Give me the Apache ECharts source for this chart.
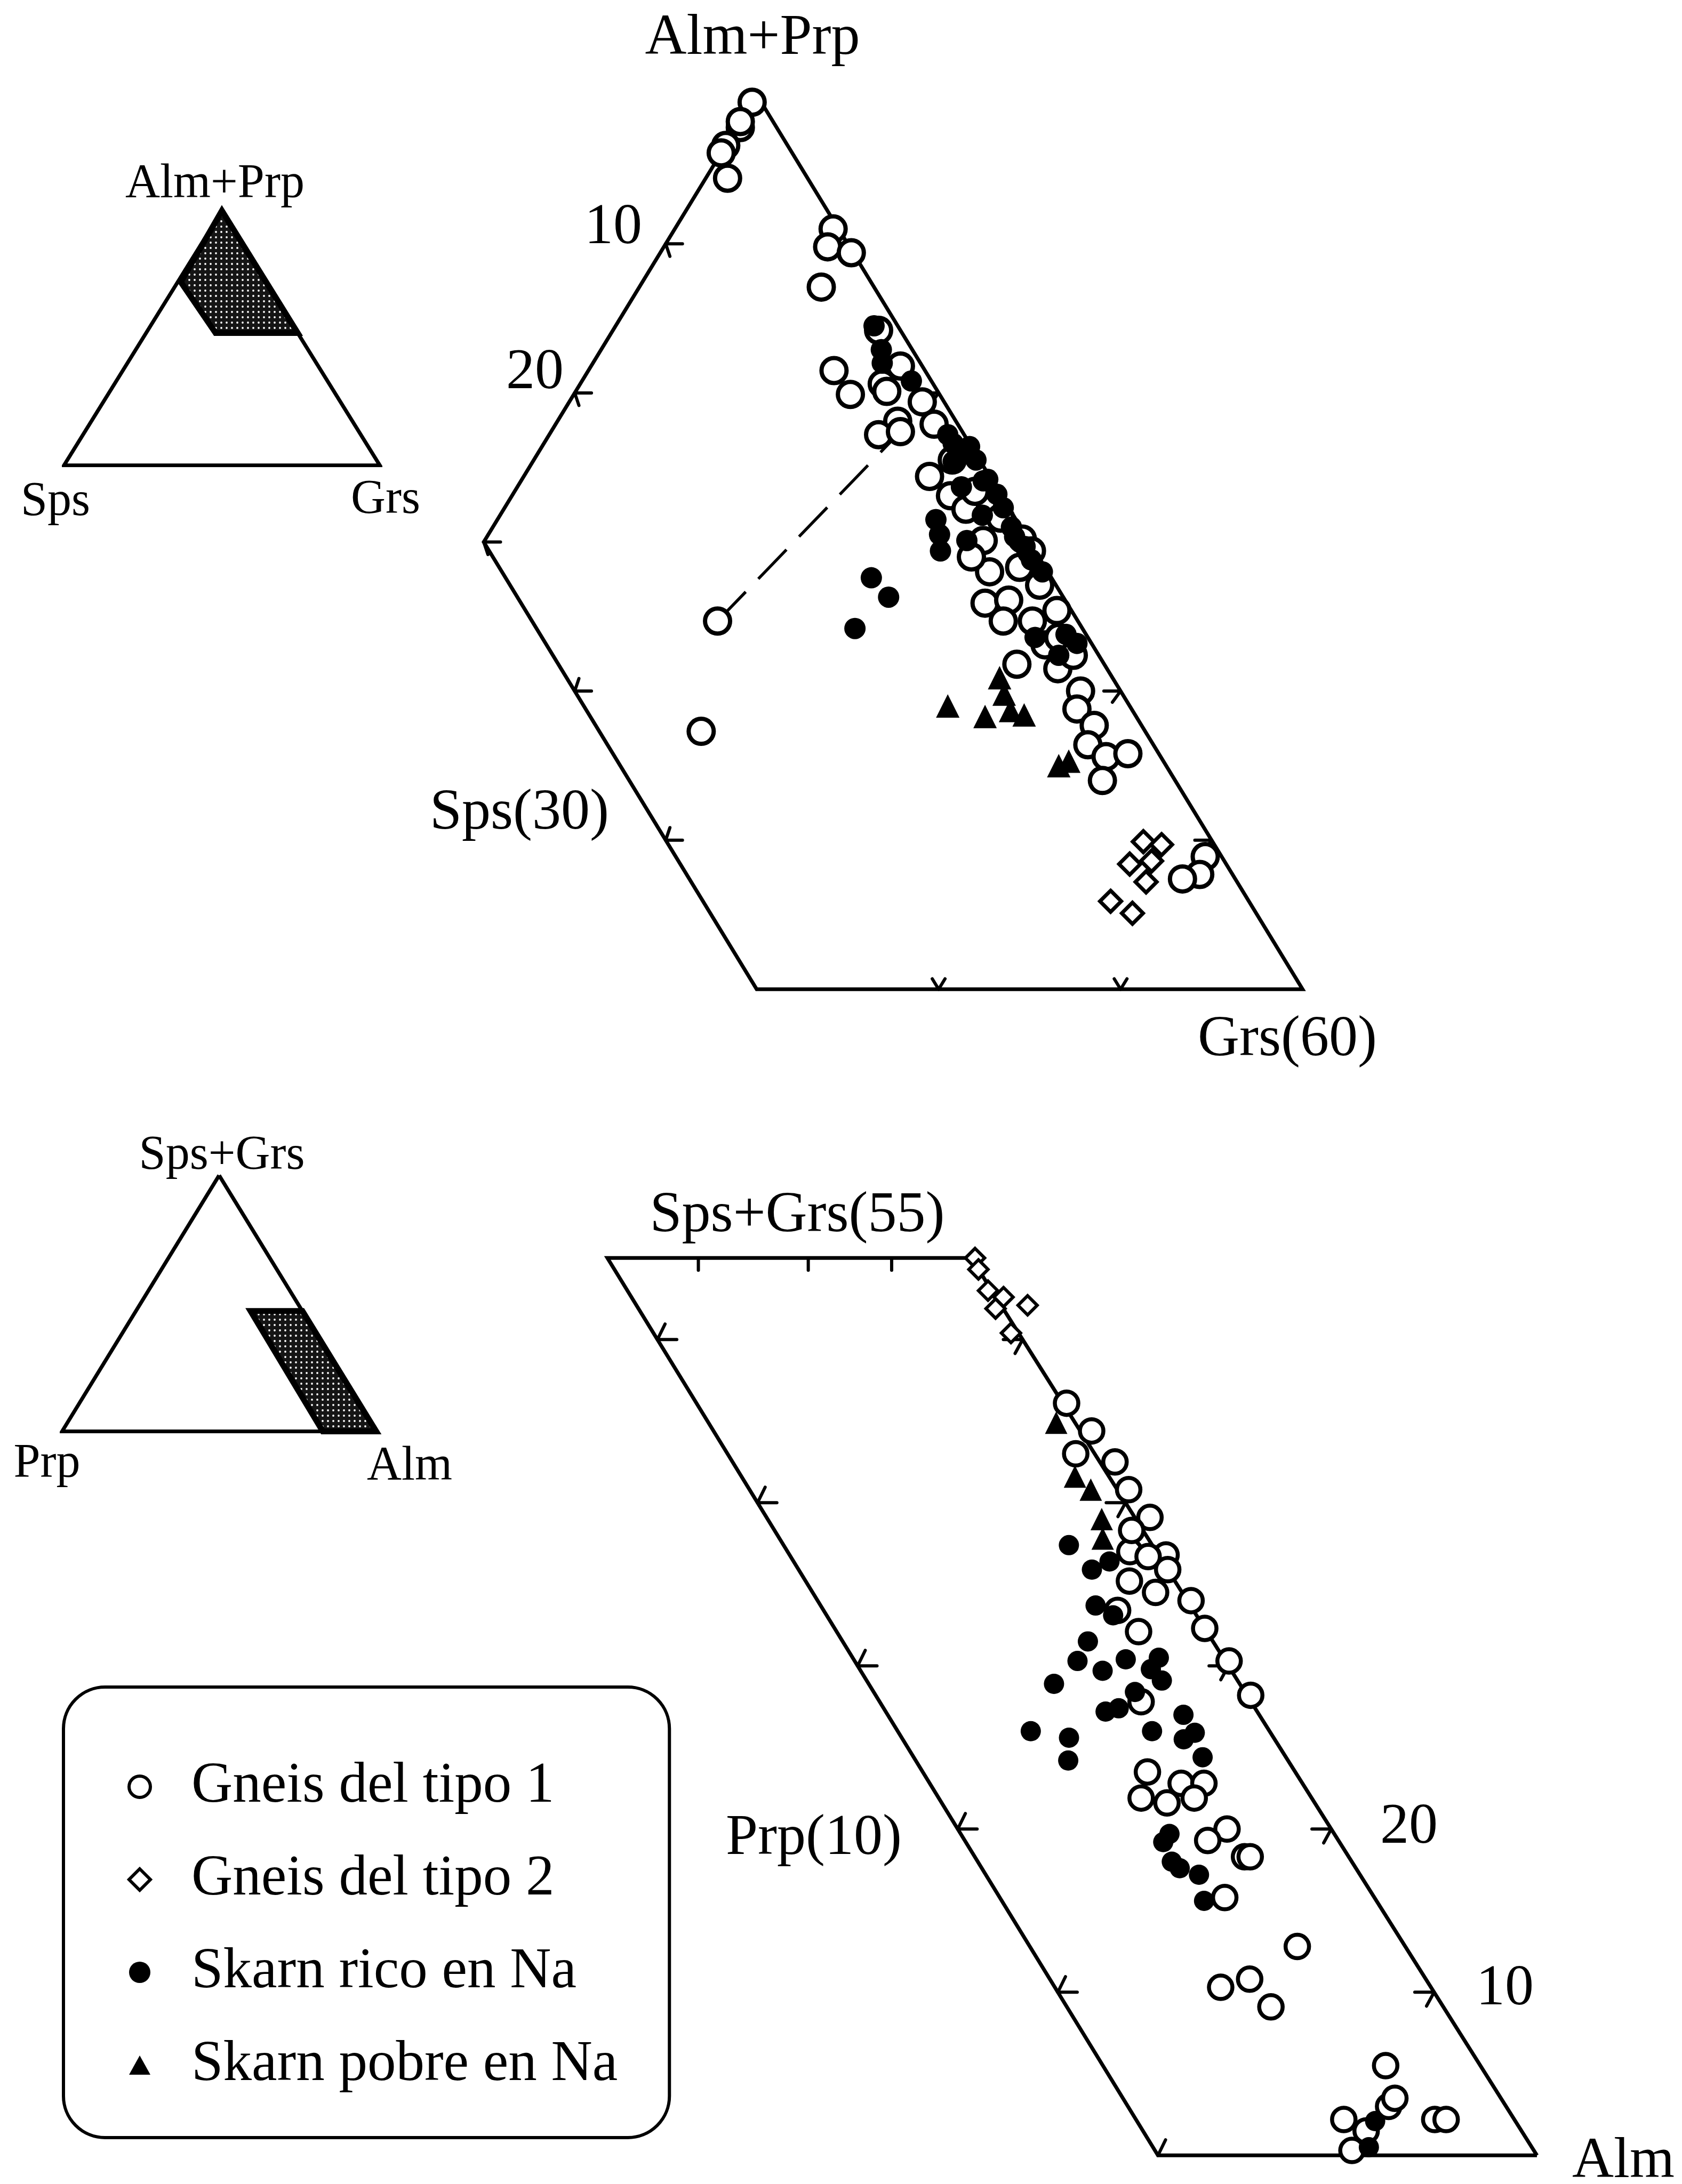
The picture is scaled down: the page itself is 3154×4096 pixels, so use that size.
<!DOCTYPE html>
<html><head><meta charset="utf-8">
<script src="https://cdn.jsdelivr.net/npm/echarts@6.0.0/dist/echarts.min.js"></script>
<style>html,body{margin:0;padding:0;background:#fff}#c{width:3154px;height:4096px}</style>
</head><body><div id="c"></div>
<script>
// ===== DATA =====
// Upper diagram: [Sps, Grs] (mol %), Alm+Prp = 100 - Sps - Grs
const upperGneis1 = [[0.5,0],[2.0,0.2],[1.8,0],[3.4,0],[3.9,0],[4.4,1.2],
 [0.3,8.7],[1.2,9.0],[0.1,10.5],[2.9,10.0],
 [1.2,14.6],[1.2,17.0],[5.0,13.5],[4.9,15.2],[2.8,16.6],[1.2,19.4],[3.2,18.7],[4.7,18.1],[3.4,19.2],[2.8,17.1],[1.3,20.8],
 [3.3,22.3],[2.8,24.1],[2.4,25.4],[2.5,27.4],[3.2,28.8],[1.4,30.3],[0.9,32.0],[4.5,29.6],[3.1,30.8],[0.8,33.8],[0.3,29.5],
 [2.5,32.8],[2.6,34.3],[2.7,35.8],[4.8,33.4],[1.6,34.8],[2.2,37.8],[3.0,38.2],[2.6,39.7],[3.6,40.0],[3.0,41.4],[1.7,42.5],[4.0,42.0],
 [0.9,50.2],[1.8,50.5],[2.9,49.7],[19.8,15.5],[24.4,18.3],
 [1.5,23.0],[1.3,25.3],[0.8,27.6],[0.2,30.4],[3.7,27.3],[4.1,31.2],[1.4,36.2]];
const upperGneis2 = [[3.8,46.3],[2.9,47.4],[5.3,46.3],[5.0,47.8],[7.6,46.5],[6.8,48.1],[4.0,47.4]];
const upperSkarnRico = [[1.3,14.2],[1.7,15.4],[2.1,15.9],[1.1,18.1],[0.9,22.5],[0.8,23.3],[1.5,23.1],[4.4,24.1],[4.7,24.8],[5.2,25.4],
 [9.9,22.5],[9.6,24.1],[12.5,23.3],[0.3,27.4],[3.4,26.5],[0.4,29.9],[2.9,33.5],[0.8,36.0],[0.2,25.6],[0.2,24.3],[0.5,28.5],[0.5,30.7],
 [2.2,35.4],[0.1,23.5],[1.7,26.5],[0.9,21.9],[0.5,25.4],[0.2,26.6],[1.9,24.4],[0.65,29.0],[0.3,31.7],[1.1,35.1]];
const upperSkarnPobre = [[6.2,32.9],[6.5,33.7],[10.0,31.0],[8.3,33.4],[6.7,34.6],[6.1,35.5],[5.9,39.1],[5.2,39.5]];
const upperTieLine = [[19.8,15.5],[3.4,19.2]];
const upperFrame = [[0,0],[30,0],[30,30],[0,60],[0,0]];
const upperSpsTicks = [10,20,30];      // on the Grs = 0 edge
const upperLowLeftTicks = [10,20];     // Grs on the Sps = 30 edge
const upperBottomTicks = [40,50];      // Grs on the Alm+Prp = 40 edge
const upperRightTicks = [10,20,30,40,50]; // Grs on the Sps = 0 edge
const upperTickLabels = ['10','20'];

// Lower diagram: [Prp, Sps+Grs] (mol %), Alm = 100 - Prp - (Sps+Grs)
const lowerGneis1 = [[-0.1,46.1],[-0.3,44.4],[0.5,43.0],[-0.4,42.5],[-0.3,40.8],[-0.4,39.1],
 [-0.2,36.8],[0.0,35.9],[-0.1,34.0],[0.0,32.3],[-0.1,30.3],[-0.1,28.2],
 [0.7,34.5],[1.2,35.2],[0.7,37.0],[0.3,36.7],[1.8,32.1],[2.0,33.4],[2.9,27.8],[0.3,38.3],
 [3.9,23.5],[3.2,22.8],[2.6,22.8],[4.5,21.9],[3.9,21.6],[3.1,21.9],
 [2.75,20.0],[3.45,19.3],[2.75,18.3],[2.6,18.3],[3.95,15.8],[2.85,12.8],[5.55,10.3],[4.65,10.8],[4.55,9.1],
 [2.5,5.5],[4.5,2.2],[3.1,3.0],[2.8,3.5],[4.1,1.5],[4.8,0.3],[2.1,2.2],[1.8,2.2]];
const lowerGneis2 = [[-0.1,55.0],[0.0,54.3],[0.1,53.0],[-0.2,52.6],[0.2,51.9],[-0.7,52.1],[0.2,50.4]];
const lowerSkarnRico = [[2.2,37.4],[1.4,36.4],[2.5,33.7],[3.3,31.5],[3.9,30.3],[3.4,29.7],[4.9,28.9],[2.6,30.4],[1.7,30.5],
 [2.0,29.1],[2.9,28.4],[4.0,27.2],[3.6,27.4],[3.1,26.0],[2.0,27.0],[2.0,25.9],[2.4,25.5],[2.2,24.4],[6.3,26.0],[5.4,25.6],
 [5.8,24.2],[2.0,35.9],[2.2,33.1],[2.1,29.8],[4.35,19.7],[4.65,19.2],[4.75,18.0],[4.65,17.6],[4.25,17.2],[4.55,15.6],[3.7,2.1],[4.3,0.5]];
const lowerSkarnPobre = [[0.5,44.9],[0.9,41.6],[0.7,40.8],[0.9,39.0],[1.2,37.8]];
const lowerFrame = [[0,0],[10,0],[9.6,55],[0,55],[0,0]];   // drawn frame (left edge slightly off-parallel as in the figure)
const lowerLeftTicks = [0,10,20,30,40,50];   // Sps+Grs on the Prp = 10 edge
const lowerRightTicks = [10,20,30,40,50];    // Sps+Grs on the Prp = 0 edge
const lowerTopTicks = [7.2,4.3,2.1];         // Prp on the Sps+Grs = 55 edge
const lowerTickLabels = ['20','10'];

// Insets
const upperInsetFrame = [[0,0],[100,0],[0,100],[0,0]];      // [Sps, Grs]
const upperInsetField = [[0,0],[27,1],[26,22],[0,48]];
const lowerInsetFrame = [[0,100],[100,0],[0,0],[0,100]];    // [Prp, Sps+Grs]
const lowerInsetField = [[0,47],[16.5,47],[17,0],[0,0]];

const legendNames = ['Gneis del tipo 1','Gneis del tipo 2','Skarn rico en Na','Skarn pobre en Na'];
const mainLabels = ['Alm+Prp','Sps(30)','Grs(60)','Sps+Grs(55)','Prp(10)','Alm'];
const insetLabels = ['Alm+Prp','Sps','Grs','Sps+Grs','Prp','Alm'];

// ===== projections =====
const up = d => [d[1]-d[0], d[1]+d[0]];            // upper ternary -> cartesian
const K = 7.382/27.2;
const lo = d => [d[0] + K*d[1], d[1]];              // lower (Prp-stretched) ternary -> cartesian
const upIn = d => [d[1]-d[0], d[1]+d[0]];
const loIn = d => [100 - 2*d[0] - d[1], d[1]];
const leftEdgeP = s => lowerFrame[1][0] + (lowerFrame[2][0] - lowerFrame[1][0]) * s / 55;

// tick segments
const upSegs = [];
upperSpsTicks.forEach(s => { const p = up([s,0]); upSegs.push([p[0],p[1],p[0]+1.84,p[1]]); upSegs.push([p[0],p[1],p[0]+0.46,p[1]+0.84]); });
upperLowLeftTicks.forEach(g => { const p = up([30,g]); upSegs.push([p[0],p[1],p[0]+1.84,p[1]]); upSegs.push([p[0],p[1],p[0]+0.46,p[1]-0.84]); });
upperBottomTicks.forEach(g => { const p = up([60-g,g]); upSegs.push([p[0],p[1],p[0]+0.7,p[1]-0.7]); upSegs.push([p[0],p[1],p[0]-0.7,p[1]-0.7]); });
upperRightTicks.forEach(g => { const p = up([0,g]); upSegs.push([p[0],p[1],p[0]-1.84,p[1]]); upSegs.push([p[0],p[1],p[0]-0.9,p[1]+0.75]); });
const loSegs = [];
lowerLeftTicks.forEach(s => { const p = lo([leftEdgeP(s),s]); if (s>0) loSegs.push([p[0],p[1],p[0]-0.51,p[1]]); loSegs.push([p[0],p[1],p[0]-0.2,p[1]+0.95]); });
lowerRightTicks.forEach(s => { const p = lo([0,s]); loSegs.push([p[0],p[1],p[0]+0.51,p[1]]); loSegs.push([p[0],p[1],p[0]+0.2,p[1]-0.85]); });
lowerTopTicks.forEach(pr => { const p = lo([pr,55]); loSegs.push([p[0],p[1],p[0],p[1]-0.75]); });

// stipple pattern for the inset fields
const pc = document.createElement('canvas'); pc.width = 10; pc.height = 10;
const cx = pc.getContext('2d'); cx.fillStyle = '#151515'; cx.fillRect(0,0,10,10);
cx.fillStyle = '#fff'; cx.beginPath(); cx.arc(5,5,1.9,0,Math.PI*2); cx.fill();

const FONT = '"Liberation Serif","DejaVu Serif",serif';
const segRender = (params, api) => {
  const a = api.coord([api.value(0), api.value(1)]), b = api.coord([api.value(2), api.value(3)]);
  return {type:'line', shape:{x1:a[0],y1:a[1],x2:b[0],y2:b[1]}, style:{stroke:'#000', lineWidth:6, lineCap:'round'}};
};
const polyRender = (pts) => (params, api) => {
  if (params.dataIndex !== 0) return null;
  return {type:'polygon', shape:{points: pts.map(p => api.coord(p))},
    style:{fill:{image:pc, repeat:'repeat'}, stroke:'#000', lineWidth:11, lineJoin:'miter'}};
};
const frameSeries = (xi, data) => ({type:'line', xAxisIndex:xi, yAxisIndex:xi, data, symbol:'none', silent:true,
  lineStyle:{color:'#000', width:7, join:'miter'}, z:1, animation:false});
const open = (name, xi, data, sym, size, bw) => ({type:'scatter', name, xAxisIndex:xi, yAxisIndex:xi, data, symbol:sym,
  symbolSize:size, clip:false, silent:true, z:3, itemStyle:{color:'#fff', borderColor:'#000', borderWidth:bw, opacity:1}});
const solid = (name, xi, data, sym, size) => ({type:'scatter', name, xAxisIndex:xi, yAxisIndex:xi, data, symbol:sym,
  symbolSize:size, clip:false, silent:true, z:3, itemStyle:{color:'#000', borderWidth:0, opacity:1}});

const text = (t, x, y, size, align) => ({type:'text', x, y, silent:true,
  style:{text:t, fill:'#000', fontSize:size, fontFamily:FONT, align:align||'center', textAlign:align||'center', verticalAlign:'middle', textVerticalAlign:'middle'}});

const legendIcons = ['circle', 'path://M0,-10L10,0L0,10L-10,0Z', 'circle', 'path://M0,-10L10,8L-10,8Z'];

const chart = echarts.init(document.getElementById('c'), null, {renderer:'canvas'});
chart.setOption({
  animation:false,
  backgroundColor:'#fff',
  grid:[
    {left:821.8, top:37.9, width:1706, height:1957.2, containLabel:false, outerBoundsMode:'none'},
    {left:963.2, top:2267.5, width:2061, height:1805.4, containLabel:false, outerBoundsMode:'none'},
    {left:119.9, top:395.3, width:592.4, height:477.5, containLabel:false, outerBoundsMode:'none'},
    {left:116.3, top:2204.3, width:589.2, height:480.3, containLabel:false, outerBoundsMode:'none'}
  ],
  xAxis:[
    {gridIndex:0, type:'value', min:-35, max:65, show:false},
    {gridIndex:1, type:'value', min:-2, max:27, inverse:true, show:false},
    {gridIndex:2, type:'value', min:-100, max:100, show:false},
    {gridIndex:3, type:'value', min:-100, max:100, show:false}
  ],
  yAxis:[
    {gridIndex:0, type:'value', min:-5, max:65, inverse:true, show:false},
    {gridIndex:1, type:'value', min:-1, max:58, show:false},
    {gridIndex:2, type:'value', min:0, max:100, inverse:true, show:false},
    {gridIndex:3, type:'value', min:0, max:100, show:false}
  ],
  legend:{
    orient:'vertical', left:119, top:3164, padding:[127,97,76,120],
    itemWidth:40, itemHeight:120, itemGap:54, symbolKeepAspect:true,
    borderColor:'#000', borderWidth:6, borderRadius:78, backgroundColor:'#fff',
    selectedMode:false,
    textStyle:{fontFamily:FONT, fontSize:107, color:'#000', lineHeight:120, padding:[0,0,0,72]},
    data: legendNames.map((n,i) => ({name:n, icon:legendIcons[i],
      itemStyle: (i<2) ? {borderWidth:6, borderColor:'#000', color:'#fff'} : {color:'#000', borderWidth:0}}))
  },
  series:[
    frameSeries(0, upperFrame.map(up)),
    {type:'custom', xAxisIndex:0, yAxisIndex:0, data:upSegs, renderItem:segRender, encode:{x:[0,2], y:[1,3]}, silent:true, z:1},
    {type:'line', xAxisIndex:0, yAxisIndex:0, data:upperTieLine.map(up), symbol:'none', silent:true, z:2,
      lineStyle:{color:'#000', width:5.5, type:[76,34]}},
    open(legendNames[0], 0, upperGneis1.map(up), 'circle', 47, 8),
    solid(legendNames[2], 0, upperSkarnRico.map(up), 'circle', 40),
    solid(legendNames[3], 0, upperSkarnPobre.map(up), 'triangle', 44),
    open(legendNames[1], 0, upperGneis2.map(up), 'diamond', 40, 7),

    frameSeries(1, lowerFrame.map(lo)),
    {type:'custom', xAxisIndex:1, yAxisIndex:1, data:loSegs, renderItem:segRender, encode:{x:[0,2], y:[1,3]}, silent:true, z:1},
    open(legendNames[0], 1, lowerGneis1.map(lo), 'circle', 44, 7.5),
    solid(legendNames[2], 1, lowerSkarnRico.map(lo), 'circle', 38),
    solid(legendNames[3], 1, lowerSkarnPobre.map(lo), 'triangle', 42),
    open(legendNames[1], 1, lowerGneis2.map(lo), 'diamond', 36, 6),

    frameSeries(2, upperInsetFrame.map(upIn)),
    {type:'custom', xAxisIndex:2, yAxisIndex:2, data:upperInsetField.map(upIn), renderItem:polyRender(upperInsetField.map(upIn)), silent:true, z:2},
    frameSeries(3, lowerInsetFrame.map(loIn)),
    {type:'custom', xAxisIndex:3, yAxisIndex:3, data:lowerInsetField.map(loIn), renderItem:polyRender(lowerInsetField.map(loIn)), silent:true, z:2}
  ],
  graphic:[
    text(mainLabels[0], 1411, 73, 108),
    text(upperTickLabels[0], 1150, 428, 108),
    text(upperTickLabels[1], 1003, 700, 108),
    text(mainLabels[1], 1142, 1526, 108, 'right'),
    text(mainLabels[2], 2414, 1951, 108),
    text(mainLabels[3], 1495, 2281, 108),
    text(mainLabels[4], 1526, 3449, 108),
    text(lowerTickLabels[0], 2642, 3428, 108),
    text(lowerTickLabels[1], 2822, 3731, 108),
    text(mainLabels[5], 3044, 4055, 108),
    text(insetLabels[0], 403, 346, 90),
    text(insetLabels[1], 104, 942, 90),
    text(insetLabels[2], 723, 938, 90),
    text(insetLabels[3], 416, 2168, 90),
    text(insetLabels[4], 88, 2746, 90),
    text(insetLabels[5], 768, 2751, 90)
  ]
});
</script>
</body></html>
